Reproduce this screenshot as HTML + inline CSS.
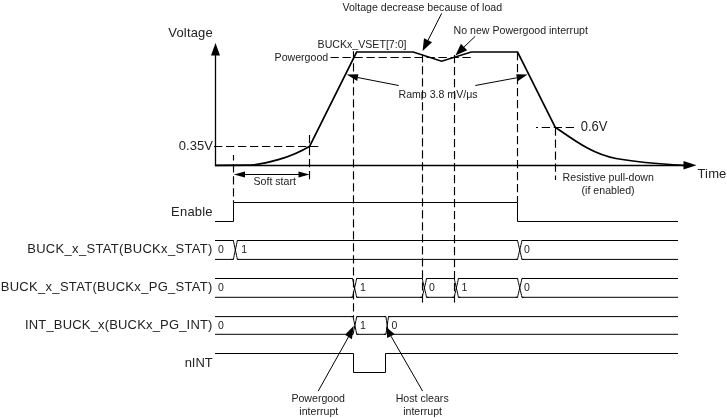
<!DOCTYPE html>
<html><head><meta charset="utf-8"><style>
html,body{margin:0;padding:0;background:#fff;}
svg{display:block;}
text{font-family:"Liberation Sans",sans-serif;fill:#222;}
svg{will-change:transform;}
</style></head><body>
<svg width="727" height="418" viewBox="0 0 727 418">
<line x1="215.5" y1="54" x2="215.5" y2="166.1" stroke="#000" stroke-width="1.3" stroke-linecap="butt"/>
<polygon points="215.50,43.00 211.00,55.50 220.00,55.50" fill="#000"/>
<line x1="214.9" y1="165.5" x2="685" y2="165.5" stroke="#000" stroke-width="1.3" stroke-linecap="butt"/>
<polygon points="696.50,165.30 683.50,161.00 683.50,169.60" fill="#000"/>
<path d="M215.5,165.4 L246,165.2 C265,165 292,157 309.7,146.2 L356.6,52 L413.2,52 L441.6,61.2 L471.2,52 L517.6,52 L555.3,127.3 C574,140 592,154.2 616,158.5 C634,161.7 660,164 684,165.4" fill="none" stroke="#000" stroke-width="1.7" stroke-linejoin="miter"/>
<line x1="214" y1="146.5" x2="319" y2="146.5" stroke="#000" stroke-width="1.15" stroke-linecap="butt" stroke-dasharray="8.3 3.7"/>
<line x1="330.5" y1="57.5" x2="471" y2="57.5" stroke="#000" stroke-width="1.15" stroke-linecap="butt" stroke-dasharray="8.3 3.7"/>
<line x1="574" y1="127.5" x2="536" y2="127.5" stroke="#000" stroke-width="1.15" stroke-linecap="butt" stroke-dasharray="8.3 3.7"/>
<line x1="233.5" y1="155" x2="233.5" y2="202.5" stroke="#000" stroke-width="1.15" stroke-linecap="butt" stroke-dasharray="8.3 3.7" stroke-dashoffset="2.7"/>
<line x1="309.5" y1="135" x2="309.5" y2="181.5" stroke="#000" stroke-width="1.15" stroke-linecap="butt" stroke-dasharray="8.3 3.7"/>
<line x1="353.5" y1="51.2" x2="353.5" y2="317" stroke="#000" stroke-width="1.15" stroke-linecap="butt" stroke-dasharray="8.3 3.7"/>
<line x1="422.5" y1="54.3" x2="422.5" y2="302.5" stroke="#000" stroke-width="1.15" stroke-linecap="butt" stroke-dasharray="8.3 3.7"/>
<line x1="454.5" y1="55" x2="454.5" y2="302.5" stroke="#000" stroke-width="1.15" stroke-linecap="butt" stroke-dasharray="8.3 3.7"/>
<line x1="517.5" y1="52" x2="517.5" y2="202.5" stroke="#000" stroke-width="1.15" stroke-linecap="butt" stroke-dasharray="8.3 3.7"/>
<line x1="555.5" y1="127.5" x2="555.5" y2="180" stroke="#000" stroke-width="1.15" stroke-linecap="butt" stroke-dasharray="8.3 3.7"/>
<line x1="441.7" y1="13.3" x2="427.5713365743566" y2="41.1874665521862" stroke="#000" stroke-width="1.0" stroke-linecap="butt"/>
<polygon points="422.60,51.00 424.01,38.26 432.04,42.33" fill="#000"/>
<line x1="475.2" y1="36.3" x2="463.3168600500946" y2="47.76302894157537" stroke="#000" stroke-width="1.0" stroke-linecap="butt"/>
<polygon points="455.40,55.40 460.91,43.83 467.16,50.31" fill="#000"/>
<line x1="398.7" y1="85.5" x2="357.8" y2="77.55000000000001" stroke="#000" stroke-width="1.0" stroke-linecap="butt"/>
<polygon points="346.60,74.60 358.30,74.20 357.30,80.90" fill="#000"/>
<line x1="475.3" y1="85.5" x2="516.95" y2="77.75" stroke="#000" stroke-width="1.0" stroke-linecap="butt"/>
<polygon points="527.60,74.40 516.20,74.20 517.70,81.30" fill="#000"/>
<line x1="318.2" y1="391.1" x2="348.45" y2="337.0" stroke="#000" stroke-width="1.0" stroke-linecap="butt"/>
<polygon points="353.80,325.80 345.00,334.80 351.90,339.20" fill="#000"/>
<line x1="422.6" y1="391.1" x2="390.95" y2="336.1" stroke="#000" stroke-width="1.0" stroke-linecap="butt"/>
<polygon points="386.20,327.00 387.20,338.00 394.70,334.20" fill="#000"/>
<line x1="244" y1="174.5" x2="300" y2="174.5" stroke="#000" stroke-width="1.0" stroke-linecap="butt"/>
<polygon points="233.90,174.50 245.00,171.60 245.00,177.40" fill="#000"/>
<polygon points="309.50,174.50 298.50,171.60 298.50,177.40" fill="#000"/>
<path d="M215,221.5 H233.5 V202.5 H517.5 V221.5 H678" fill="none" stroke="#000" stroke-width="1.0" stroke-linejoin="miter"/>
<line x1="215" y1="240.5" x2="233.4" y2="240.5" stroke="#000" stroke-width="1.0" stroke-linecap="butt"/>
<line x1="215" y1="259.4" x2="233.4" y2="259.4" stroke="#000" stroke-width="1.0" stroke-linecap="butt"/>
<line x1="237.3" y1="240.5" x2="517.6" y2="240.5" stroke="#000" stroke-width="1.0" stroke-linecap="butt"/>
<line x1="237.3" y1="259.4" x2="517.6" y2="259.4" stroke="#000" stroke-width="1.0" stroke-linecap="butt"/>
<line x1="521.9" y1="240.5" x2="678" y2="240.5" stroke="#000" stroke-width="1.0" stroke-linecap="butt"/>
<line x1="521.9" y1="259.4" x2="678" y2="259.4" stroke="#000" stroke-width="1.0" stroke-linecap="butt"/>
<path d="M231.4,240.5 L233.4,240.5 C234.0,244.5 236.70000000000002,255.39999999999998 237.3,259.4 L239.3,259.4" fill="none" stroke="#000" stroke-width="1.0" stroke-linejoin="miter"/>
<path d="M231.4,259.4 L233.4,259.4 C234.0,255.39999999999998 236.70000000000002,244.5 237.3,240.5 L239.3,240.5" fill="none" stroke="#000" stroke-width="1.0" stroke-linejoin="miter"/>
<path d="M515.6,240.5 L517.6,240.5 C518.2,244.5 521.3,255.39999999999998 521.9,259.4 L523.9,259.4" fill="none" stroke="#000" stroke-width="1.0" stroke-linejoin="miter"/>
<path d="M515.6,259.4 L517.6,259.4 C518.2,255.39999999999998 521.3,244.5 521.9,240.5 L523.9,240.5" fill="none" stroke="#000" stroke-width="1.0" stroke-linejoin="miter"/>
<line x1="215" y1="278.5" x2="352.6" y2="278.5" stroke="#000" stroke-width="1.0" stroke-linecap="butt"/>
<line x1="215" y1="297.3" x2="352.6" y2="297.3" stroke="#000" stroke-width="1.0" stroke-linecap="butt"/>
<line x1="356.6" y1="278.5" x2="422.3" y2="278.5" stroke="#000" stroke-width="1.0" stroke-linecap="butt"/>
<line x1="356.6" y1="297.3" x2="422.3" y2="297.3" stroke="#000" stroke-width="1.0" stroke-linecap="butt"/>
<line x1="426.5" y1="278.5" x2="454.3" y2="278.5" stroke="#000" stroke-width="1.0" stroke-linecap="butt"/>
<line x1="426.5" y1="297.3" x2="454.3" y2="297.3" stroke="#000" stroke-width="1.0" stroke-linecap="butt"/>
<line x1="458.40000000000003" y1="278.5" x2="517.6" y2="278.5" stroke="#000" stroke-width="1.0" stroke-linecap="butt"/>
<line x1="458.40000000000003" y1="297.3" x2="517.6" y2="297.3" stroke="#000" stroke-width="1.0" stroke-linecap="butt"/>
<line x1="521.9" y1="278.5" x2="678" y2="278.5" stroke="#000" stroke-width="1.0" stroke-linecap="butt"/>
<line x1="521.9" y1="297.3" x2="678" y2="297.3" stroke="#000" stroke-width="1.0" stroke-linecap="butt"/>
<path d="M350.6,278.5 L352.6,278.5 C353.20000000000005,282.5 356.0,293.3 356.6,297.3 L358.6,297.3" fill="none" stroke="#000" stroke-width="1.0" stroke-linejoin="miter"/>
<path d="M350.6,297.3 L352.6,297.3 C353.20000000000005,293.3 356.0,282.5 356.6,278.5 L358.6,278.5" fill="none" stroke="#000" stroke-width="1.0" stroke-linejoin="miter"/>
<path d="M420.3,278.5 L422.3,278.5 C422.90000000000003,282.5 425.9,293.3 426.5,297.3 L428.5,297.3" fill="none" stroke="#000" stroke-width="1.0" stroke-linejoin="miter"/>
<path d="M420.3,297.3 L422.3,297.3 C422.90000000000003,293.3 425.9,282.5 426.5,278.5 L428.5,278.5" fill="none" stroke="#000" stroke-width="1.0" stroke-linejoin="miter"/>
<path d="M452.3,278.5 L454.3,278.5 C454.90000000000003,282.5 457.8,293.3 458.40000000000003,297.3 L460.40000000000003,297.3" fill="none" stroke="#000" stroke-width="1.0" stroke-linejoin="miter"/>
<path d="M452.3,297.3 L454.3,297.3 C454.90000000000003,293.3 457.8,282.5 458.40000000000003,278.5 L460.40000000000003,278.5" fill="none" stroke="#000" stroke-width="1.0" stroke-linejoin="miter"/>
<path d="M515.6,278.5 L517.6,278.5 C518.2,282.5 521.3,293.3 521.9,297.3 L523.9,297.3" fill="none" stroke="#000" stroke-width="1.0" stroke-linejoin="miter"/>
<path d="M515.6,297.3 L517.6,297.3 C518.2,293.3 521.3,282.5 521.9,278.5 L523.9,278.5" fill="none" stroke="#000" stroke-width="1.0" stroke-linejoin="miter"/>
<line x1="215" y1="316.6" x2="353.1" y2="316.6" stroke="#000" stroke-width="1.0" stroke-linecap="butt"/>
<line x1="215" y1="334.3" x2="353.1" y2="334.3" stroke="#000" stroke-width="1.0" stroke-linecap="butt"/>
<line x1="356.70000000000005" y1="316.6" x2="385.9" y2="316.6" stroke="#000" stroke-width="1.0" stroke-linecap="butt"/>
<line x1="356.70000000000005" y1="334.3" x2="385.9" y2="334.3" stroke="#000" stroke-width="1.0" stroke-linecap="butt"/>
<line x1="388.5" y1="316.6" x2="678" y2="316.6" stroke="#000" stroke-width="1.0" stroke-linecap="butt"/>
<line x1="388.5" y1="334.3" x2="678" y2="334.3" stroke="#000" stroke-width="1.0" stroke-linecap="butt"/>
<path d="M351.1,316.6 L353.1,316.6 C353.70000000000005,320.6 356.1,330.3 356.70000000000005,334.3 L358.70000000000005,334.3" fill="none" stroke="#000" stroke-width="1.0" stroke-linejoin="miter"/>
<path d="M351.1,334.3 L353.1,334.3 C353.70000000000005,330.3 356.1,320.6 356.70000000000005,316.6 L358.70000000000005,316.6" fill="none" stroke="#000" stroke-width="1.0" stroke-linejoin="miter"/>
<path d="M383.9,316.6 L385.9,316.6 C386.5,320.6 387.9,330.3 388.5,334.3 L390.5,334.3" fill="none" stroke="#000" stroke-width="1.0" stroke-linejoin="miter"/>
<path d="M383.9,334.3 L385.9,334.3 C386.5,330.3 387.9,320.6 388.5,316.6 L390.5,316.6" fill="none" stroke="#000" stroke-width="1.0" stroke-linejoin="miter"/>
<path d="M215,353.5 H353.5 V372.5 H385.5 V353.5 H678" fill="none" stroke="#000" stroke-width="1.0" stroke-linejoin="miter"/>
<text transform="translate(168.30 36.60) scale(1 1.05)" font-size="13.0" letter-spacing="0.18">Voltage</text>
<text transform="translate(212.95 149.70) scale(1 1.05)" font-size="13.0" letter-spacing="0.05" text-anchor="end">0.35V</text>
<text transform="translate(580.80 130.90) scale(1 1.09)" font-size="13.0" letter-spacing="-0.05">0.6V</text>
<text transform="translate(697.50 177.80) scale(1 1.05)" font-size="13.0" letter-spacing="0.15">Time</text>
<text transform="translate(212.82 215.90) scale(1 1.05)" font-size="13.0" letter-spacing="0.22" text-anchor="end">Enable</text>
<text transform="translate(212.73 252.90) scale(1 1.05)" font-size="13.0" letter-spacing="0.33" text-anchor="end">BUCK_x_STAT(BUCKx_STAT)</text>
<text transform="translate(212.71 291.40) scale(1 1.05)" font-size="13.0" letter-spacing="0.31" text-anchor="end">BUCK_x_STAT(BUCKx_PG_STAT)</text>
<text transform="translate(212.58 329.00) scale(1 1.05)" font-size="13.0" letter-spacing="0.18" text-anchor="end">INT_BUCK_x(BUCKx_PG_INT)</text>
<text transform="translate(212.80 366.90) scale(1 1.05)" font-size="13.0" letter-spacing="0.0" text-anchor="end">nINT</text>
<text x="342.5" y="11" font-size="10.6">Voltage decrease because of load</text>
<text x="453.6" y="33.8" font-size="10.6">No new Powergood interrupt</text>
<text x="317.6" y="47.8" font-size="10.6">BUCKx_VSET[7:0]</text>
<text x="328.2" y="60.8" font-size="10.6" text-anchor="end">Powergood</text>
<text x="398.5" y="97.7" font-size="10.6">Ramp 3.8 mV/&#956;s</text>
<text x="253.5" y="184.5" font-size="10.6">Soft start</text>
<text x="562.6" y="181.3" font-size="10.6">Resistive pull-down</text>
<text x="581.6" y="193.6" font-size="10.6">(if enabled)</text>
<text x="318.2" y="402.1" font-size="10.6" text-anchor="middle">Powergood</text>
<text x="318.8" y="414.5" font-size="10.6" text-anchor="middle">interrupt</text>
<text x="422.2" y="402.1" font-size="10.6" text-anchor="middle">Host clears</text>
<text x="422.6" y="414.5" font-size="10.6" text-anchor="middle">interrupt</text>
<text x="218" y="252.9" font-size="10.5">0</text>
<text x="241.3" y="252.9" font-size="10.5">1</text>
<text x="523.9" y="252.9" font-size="10.5">0</text>
<text x="218" y="290.9" font-size="10.5">0</text>
<text x="360.0" y="290.9" font-size="10.5">1</text>
<text x="429" y="290.9" font-size="10.5">0</text>
<text x="461.5" y="290.9" font-size="10.5">1</text>
<text x="523.9" y="290.9" font-size="10.5">0</text>
<text x="218" y="328.9" font-size="10.5">0</text>
<text x="360.0" y="328.9" font-size="10.5">1</text>
<text x="391.5" y="328.9" font-size="10.5">0</text>
</svg></body></html>
